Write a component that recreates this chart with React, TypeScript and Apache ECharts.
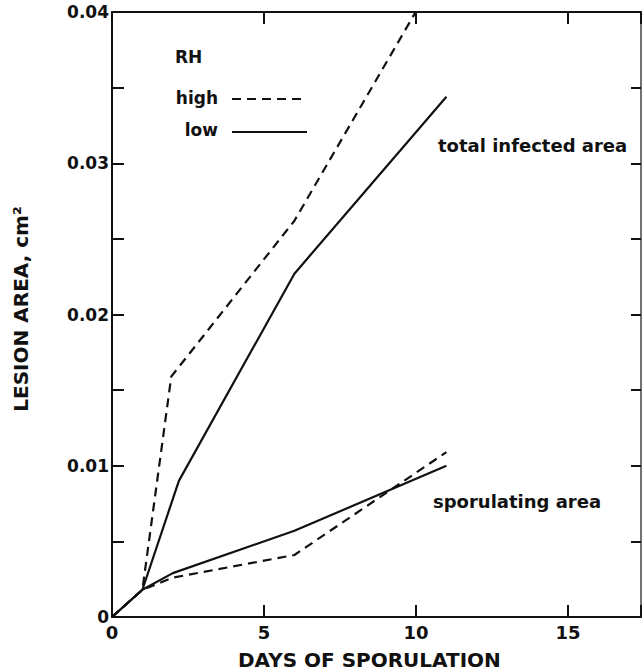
import React, { useEffect, useRef } from "react";
import * as echarts from "echarts";

const days = [0, 1, 2, 6, 11];
const totalHighDays = [0, 1, 1.95, 6, 11];
const totalHigh = [0, 0.0018, 0.0159, 0.0262, 0.0435];
const totalLowDays = [0, 1, 2.2, 6, 11];
const totalLow = [0, 0.0018, 0.009, 0.0227, 0.0344];
const sporHigh = [0, 0.0018, 0.0026, 0.0041, 0.0109];
const sporLow = [0, 0.0018, 0.0029, 0.0057, 0.01];

const xTicks = [0, 5, 10, 15];
const yTickLabels = ["0", "0.01", "0.02", "0.03", "0.04"];

const FONT = "DejaVu Sans";

const pair = (xs: number[], ys: number[]) => xs.map((x, i) => [x, ys[i]]);

export default function App() {
  const ref = useRef<HTMLDivElement>(null);
  useEffect(() => {
    document.body.style.margin = "0";
    const chart = echarts.init(ref.current!, null, { renderer: "svg" });
    const axisLine = { show: true, onZero: false, lineStyle: { color: "#111", width: 2 } };
    const axisTick = { show: true, inside: true, length: 12, lineStyle: { color: "#111", width: 2 } };
    const xLabel = {
      fontFamily: FONT,
      fontWeight: "bold",
      fontSize: 18,
      color: "#111",
      margin: 6,
      formatter: (v: number) => (xTicks.includes(v) ? String(v) : ""),
    };
    const yLabel = {
      fontFamily: FONT,
      fontWeight: "bold",
      fontSize: 17,
      color: "#111",
      margin: 3,
      formatter: (v: number) => {
        const i = Math.round(v / 0.01);
        return Math.abs(v - i * 0.01) < 1e-9 ? yTickLabels[i] ?? "" : "";
      },
    };
    const lineBase = { type: "line", showSymbol: false, symbol: "none", clip: true, color: "#111" };
    const solid = { color: "#111", width: 2.2, type: "solid" };
    const dashed = { color: "#111", width: 2.2, type: [9, 6] };
    chart.setOption({
      animation: false,
      backgroundColor: "#fff",
      grid: { left: 112, top: 12, width: 531, height: 605, containLabel: false },
      xAxis: [
        {
          type: "value", min: 0, max: 17.4, interval: 5, position: "bottom",
          axisLine, axisTick, axisLabel: xLabel, splitLine: { show: false },
        },
        {
          type: "value", min: 0, max: 17.4, interval: 5, position: "top",
          axisLine, axisTick, axisLabel: { show: false }, splitLine: { show: false },
        },
      ],
      yAxis: [
        {
          type: "value", min: 0, max: 0.04, interval: 0.005, position: "left",
          axisLine, axisTick, axisLabel: yLabel, splitLine: { show: false },
        },
        {
          type: "value", min: 0, max: 0.04, interval: 0.005, position: "right",
          axisLine: { show: true, onZero: false, lineStyle: { color: "#444", width: 1.5 } },
          axisTick: { ...axisTick, length: 10 }, axisLabel: { show: false }, splitLine: { show: false },
        },
      ],
      series: [
        { ...lineBase, name: "total high", data: pair(totalHighDays, totalHigh), lineStyle: dashed },
        { ...lineBase, name: "total low", data: pair(totalLowDays, totalLow), lineStyle: solid },
        { ...lineBase, name: "sporulating high", data: pair(days, sporHigh), lineStyle: dashed },
        { ...lineBase, name: "sporulating low", data: pair(days, sporLow), lineStyle: solid },
      ],
      graphic: [
        {
          type: "text", x: 238, y: 660,
          style: { text: "DAYS OF SPORULATION", font: `bold 20px "${FONT}"`, fill: "#111", verticalAlign: "middle" },
        },
        {
          type: "text", x: 21, y: 309, rotation: Math.PI / 2,
          style: { text: "LESION AREA, cm²", font: `bold 20px "${FONT}"`, fill: "#111", align: "center", verticalAlign: "middle" },
        },
        {
          type: "text", x: 175, y: 57,
          style: { text: "RH", font: `bold 17px "${FONT}"`, fill: "#111", verticalAlign: "middle" },
        },
        {
          type: "text", x: 218, y: 98,
          style: { text: "high", font: `bold 17px "${FONT}"`, fill: "#111", align: "right", verticalAlign: "middle" },
        },
        {
          type: "text", x: 218, y: 130,
          style: { text: "low", font: `bold 17px "${FONT}"`, fill: "#111", align: "right", verticalAlign: "middle" },
        },
        {
          type: "line", shape: { x1: 232, y1: 99, x2: 306, y2: 99 },
          style: { stroke: "#111", lineWidth: 2.2, lineDash: [9, 6] },
        },
        {
          type: "line", shape: { x1: 232, y1: 132, x2: 307, y2: 132 },
          style: { stroke: "#111", lineWidth: 2.2 },
        },
        {
          type: "text", x: 438, y: 145,
          style: { text: "total infected area", font: `bold 18px "${FONT}"`, fill: "#111", verticalAlign: "middle" },
        },
        {
          type: "text", x: 433, y: 501,
          style: { text: "sporulating area", font: `bold 18px "${FONT}"`, fill: "#111", verticalAlign: "middle" },
        },
      ],
    });
    return () => chart.dispose();
  }, []);
  return <div ref={ref} style={{ width: 644, height: 672 }} />;
}
